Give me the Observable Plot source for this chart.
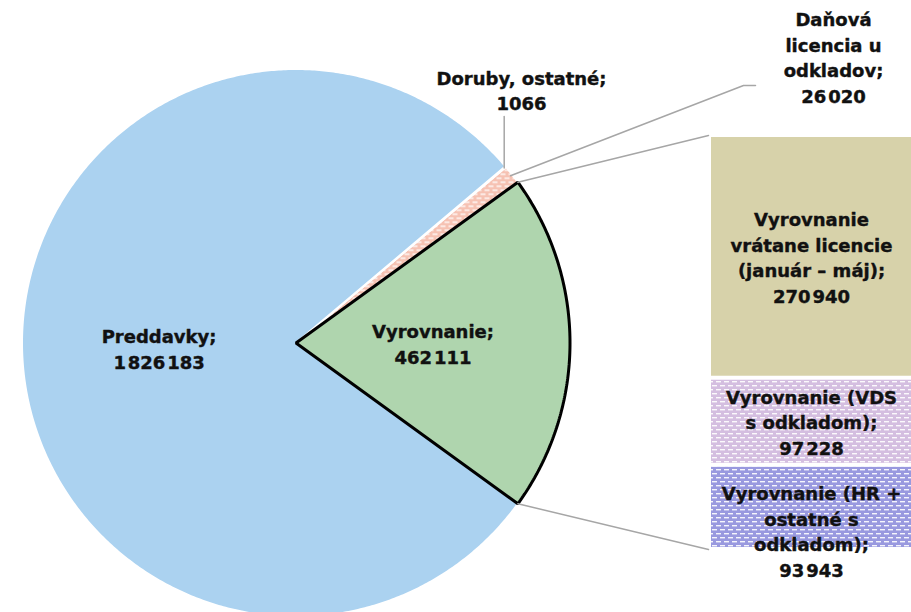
<!DOCTYPE html>
<html><head><meta charset="utf-8">
<script src="https://cdn.jsdelivr.net/npm/d3@7"></script>
<script src="https://cdn.jsdelivr.net/npm/@observablehq/plot@0.6"></script>
<style>
html,body{margin:0;padding:0;background:#fff;}
#chart{position:relative;width:911px;height:612px;overflow:hidden;}
#chart svg{position:absolute;left:0;top:0;}
</style></head><body><div id="chart"></div>
<script>
// ---- data ----
const pieNames = ["Vyrovnanie", "Daňová licencia u odkladov", "Doruby, ostatné", "Preddavky"];
const pieValues = [462111, 26020, 1066, 1826183];
const pieLabels = ["Vyrovnanie;", "Daňová\nlicencia u\nodkladov;", "Doruby, ostatné;", "Preddavky;"];
const barNames = ["Vyrovnanie vrátane licencie (január – máj)", "Vyrovnanie (VDS s odkladom)", "Vyrovnanie (HR + ostatné s odkladom)"];
const barValues = [270940, 97228, 93943];
const barLabels = ["Vyrovnanie\nvrátane licencie\n(január – máj);", "Vyrovnanie (VDS\ns odkladom);", "Vyrovnanie (HR +\nostatné s\nodkladom);"];

// ---- styles ----
const pieColors = ["#AFD5AE", "url(#patPink)", "#F3D9CF", "#ABD2F0"];
const barColors = ["#D7D2AA", "url(#patViolet)", "url(#patBlue)"];
const font = {fontFamily: "DejaVu Sans", fontWeight: "bold", fontSize: 18, lineHeight: 1.42, fill: "#111", stroke: "#111", strokeWidth: 0.4, letterSpacing: -0.2};

// ---- layout ----
const W = 911, H = 612;
const CX = 295.5, CY = 342.5, R = 274;
const BAR = {left: 711, top: 133, bottom: 547, insetTop: 4};
const outsideLabelPos = {"Doruby, ostatné": [521, 89], "Daňová licencia u odkladov": [833, 56]};
const leaderEnd = {"Doruby, ostatné": [[null, 116]], "Daňová licencia u odkladov": [[743, 85], [755, 85]]};

const fmt = v => v < 10000 ? String(v) : d3.format(",")(v).replace(/,/g, "\u200A");

// ---- pie geometry from values ----
const total = d3.sum(pieValues);
const pt = (a, r) => ({x: CX + r * Math.cos(a), y: CY - r * Math.sin(a)});
let a = -Math.PI * pieValues[0] / total;
const slices = pieNames.map((name, i) => {
  const s = a, e = a + 2 * Math.PI * pieValues[i] / total;
  a = e;
  return {name, i, s, e, mid: (s + e) / 2};
});
const slicePts = [];
for (const sl of slices) {
  const n = Math.max(2, Math.ceil((sl.e - sl.s) / (Math.PI / 360)));
  slicePts.push({name: sl.name, ...pt(0, 0)});
  for (let k = 0; k <= n; k++) slicePts.push({name: sl.name, ...pt(sl.s + (sl.e - sl.s) * k / n, R)});
}
const greenPts = slicePts.filter(d => d.name === pieNames[0]);

const pieText = slices.filter(s => !outsideLabelPos[s.name]).map(s => ({
  ...pt(s.mid, R * 0.5), text: pieLabels[s.i] + "\n" + fmt(pieValues[s.i])
}));
const outText = slices.filter(s => outsideLabelPos[s.name]).map(s => ({
  x: outsideLabelPos[s.name][0], y: outsideLabelPos[s.name][1], text: pieLabels[s.i] + "\n" + fmt(pieValues[s.i])
}));
const leaders = [];
for (const s of slices) {
  if (!leaderEnd[s.name]) continue;
  const p0 = pt(s.mid, R - 2);
  leaders.push({id: s.name, ...p0});
  for (const [x, y] of leaderEnd[s.name]) leaders.push({id: s.name, x: x == null ? p0.x : x, y});
}

// ---- bar plot ----
const barTotal = d3.sum(barValues);
const barRows = barNames.map((name, i) => ({name, value: barValues[i], label: barLabels[i] + "\n" + fmt(barValues[i]), grp: "V"}));
const cum = d3.cumsum(barValues);
const barText = barRows.map((r, i) => ({...r, mid: cum[i] - barValues[i] / 2}));

const colorScale = {type: "ordinal", domain: [...pieNames, ...barNames], range: [...pieColors, ...barColors]};

const barPlot = Plot.plot({
  width: W, height: H,
  marginLeft: BAR.left, marginRight: 0, marginTop: BAR.top, marginBottom: H - BAR.bottom,
  x: {type: "band", domain: ["V"], padding: 0, axis: null},
  y: {domain: [0, barTotal], reverse: true, axis: null},
  color: colorScale,
  marks: [
    Plot.barY(barRows, {x: "grp", y: "value", fill: "name", insetTop: BAR.insetTop, order: null}),
    Plot.text(barText.slice(0, 2), {x: "grp", y: "mid", text: "label", dy: 1.5, ...font}),
    Plot.text(barText.slice(2), {x: "grp", y: "mid", text: "label", dy: 25, ...font})
  ]
});
const by = barPlot.scale("y");
const barTopPx = by.apply(0) + BAR.insetTop - 2;
const barBotPx = by.apply(barTotal) + 2;
const g = slices[0];
const c1 = pt(g.e, R), c2 = pt(g.s, R);
const connectors = [
  {id: "top", ...c1}, {id: "top", x: BAR.left - 3, y: barTopPx},
  {id: "bot", ...c2}, {id: "bot", x: BAR.left - 3, y: barBotPx}
];

const piePlot = Plot.plot({
  width: W, height: H, margin: 0,
  x: {domain: [0, W], range: [0, W], axis: null},
  y: {domain: [0, H], range: [0, H], axis: null},
  color: colorScale,
  marks: [
    Plot.line(slicePts, {x: "x", y: "y", z: "name", fill: "name", stroke: "white", strokeWidth: 2, curve: "linear-closed", strokeLinejoin: "round"}),
    Plot.line(greenPts, {x: "x", y: "y", fill: "name", stroke: "black", strokeWidth: 3, curve: "linear-closed", strokeLinejoin: "miter"}),
    Plot.line(leaders, {x: "x", y: "y", z: "id", stroke: "#A6A6A6", strokeWidth: 1.5}),
    Plot.line(connectors, {x: "x", y: "y", z: "id", stroke: "#A6A6A6", strokeWidth: 1.5}),
    Plot.text(pieText, {x: "x", y: "y", text: "text", ...font}),
    Plot.text(outText, {x: "x", y: "y", text: "text", ...font})
  ]
});

function addDefs(svg) {
  const defs = d3.select(svg).insert("defs", ":first-child");
  const pats = [["patPink", "#F6C2B3"], ["patViolet", "#D4BEE0"], ["patBlue", "#9999DF"]];
  for (const [id, col] of pats) {
    const p = defs.append("pattern").attr("id", id).attr("patternUnits", "userSpaceOnUse").attr("width", 8).attr("height", 8);
    p.append("rect").attr("width", 8).attr("height", 8).attr("fill", col);
    const w = "rgba(255,255,255,0.9)";
    p.append("rect").attr("x", 0).attr("y", 1).attr("width", 5).attr("height", 1.4).attr("fill", w);
    p.append("rect").attr("x", 4).attr("y", 5).attr("width", 4).attr("height", 1.4).attr("fill", w);
    p.append("rect").attr("x", 0).attr("y", 5).attr("width", 1).attr("height", 1.4).attr("fill", w);
  }
}
addDefs(piePlot);
const chart = document.getElementById("chart");
chart.appendChild(piePlot);
chart.appendChild(barPlot);
d3.select(barPlot).style("pointer-events", "none");
</script></body></html>
